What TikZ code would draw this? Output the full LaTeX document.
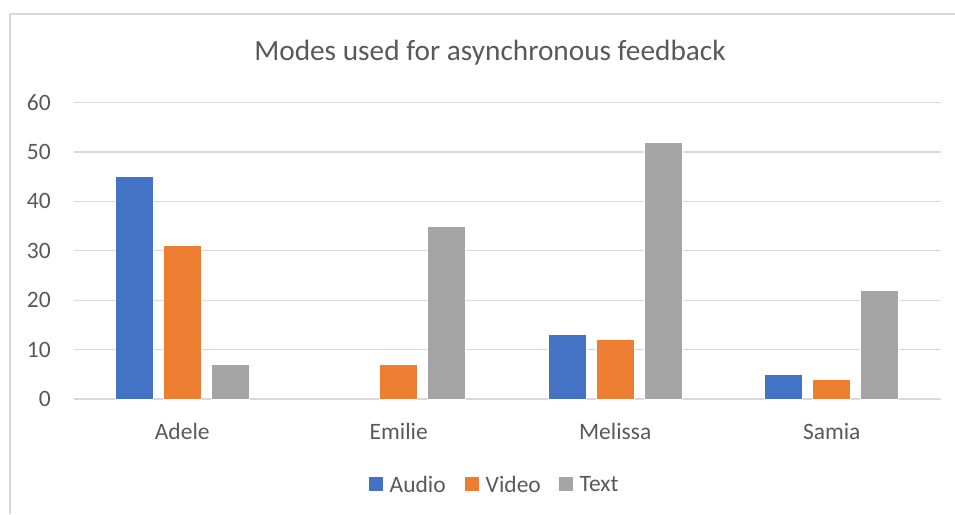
\documentclass[tikz,border=0pt]{standalone}
\usepackage{fontspec}
\setmainfont{Carlito}
\definecolor{txt}{HTML}{595959}
\definecolor{grid}{HTML}{D9D9D9}
\definecolor{audio}{HTML}{4472C4}
\definecolor{video}{HTML}{ED7D31}
\definecolor{textc}{HTML}{A5A5A5}
\begin{document}
\begin{tikzpicture}[x=1pt,y=-1pt,
  gridline/.style={draw=grid,line width=1.3pt},
  bar/.style={draw=white,line width=0.8pt},
  ticklabel/.style={text=txt,font=\fontsize{23.5}{28}\selectfont,anchor=east,inner sep=0pt},
  catlabel/.style={text=txt,font=\fontsize{23.5}{28}\selectfont,inner sep=0pt},
  legendtext/.style={text=txt,font=\fontsize{23.5}{28}\selectfont,anchor=west,inner sep=0pt},
  legendkey/.style={minimum size=14pt,inner sep=0pt}]
\useasboundingbox (0,0) rectangle (955,514);
% chart frame (right and bottom edges fall outside the page)
\draw[grid,line width=1.3pt] (10,514) -- (10,14) -- (955,14);
% title
\node[text=txt,font=\fontsize{29.3}{34}\selectfont,inner sep=0pt] (title) at (490,52.5) {Modes used for asynchronous feedback};
% value axis: gridlines and labels
\foreach \v in {0,10,...,60}{
  \pgfmathsetmacro{\yy}{399-\v*4.94}
  \draw[gridline] (74,\yy) -- (940.5,\yy);
  \node[ticklabel] (tick\v) at (51,\yy) {\v};
}
% bars: category index / audio / video / text
\foreach \i/\name/\a/\b/\c in {0/Adele/45/31/7, 1/Emilie/0/7/35, 2/Melissa/13/12/52, 3/Samia/5/4/22}{
  \pgfmathsetmacro{\cx}{74+216.5*(\i+0.5)}
  \ifnum\a>0
    \fill[audio] (\cx-67,399) rectangle (\cx-29,399-\a*4.94);
    \draw[bar] (\cx-67,399) rectangle (\cx-29,399-\a*4.94);
  \fi
  \fill[video] (\cx-19,399) rectangle (\cx+19,399-\b*4.94);
  \draw[bar] (\cx-19,399) rectangle (\cx+19,399-\b*4.94);
  \fill[textc] (\cx+29,399) rectangle (\cx+67,399-\c*4.94);
  \draw[bar] (\cx+29,399) rectangle (\cx+67,399-\c*4.94);
  \node[catlabel] (cat\i) at (\cx,431) {\name};
}
% legend
\node[legendkey,fill=audio] (keyA) at (376,484) {};
\node[legendtext] (labA) at (389.5,484) {Audio};
\node[legendkey,fill=video] (keyV) at (472,484) {};
\node[legendtext] (labV) at (485.5,484) {Video};
\node[legendkey,fill=textc] (keyT) at (566,484) {};
\node[legendtext] (labT) at (579.5,484) {Text};
\end{tikzpicture}
\end{document}
